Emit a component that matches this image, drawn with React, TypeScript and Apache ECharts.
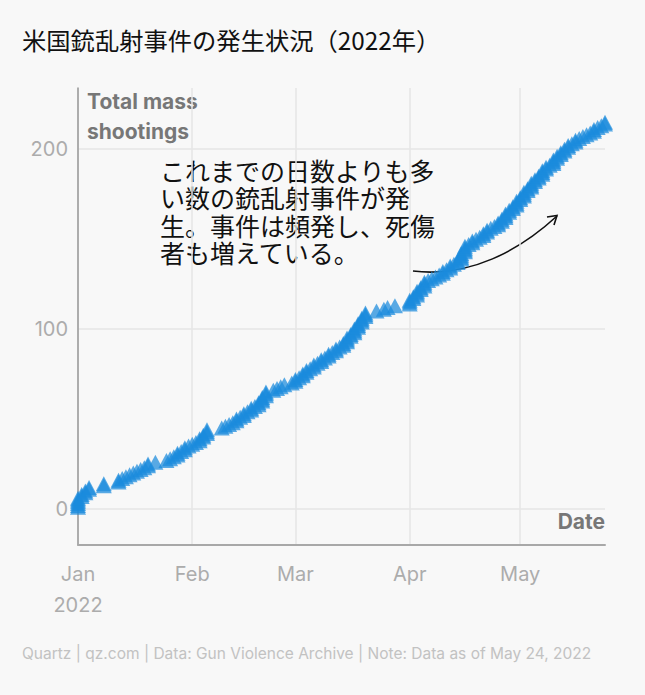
import React, { useEffect, useRef } from 'react';
import * as echarts from 'echarts';

const titleText = '米国銃乱射事件の発生状況（2022年）';
const yAxisTitleLines = ['Total mass', 'shootings'];
const xAxisTitle = 'Date';
const annotationLines = [
  'これまでの日数よりも多',
  'い数の銃乱射事件が発',
  '生。事件は頻発し、死傷',
  '者も増えている。',
];
const footerText =
  'Quartz | qz.com | Data: Gun Violence Archive | Note: Data as of May 24, 2022';

// x axis: day index since Jan 1, 2022
const monthLabels = ['Jan\n2022', 'Feb', 'Mar', 'Apr', 'May'];
const monthStartDays = [0, 31, 59, 90, 120];
const lastDay = 143; // May 24
const yTicks = [0, 100, 200];

// number of mass shootings per day
const janCounts = [6, 2, 2, 2, 0, 0, 0, 2, 0, 0, 0, 2, 1, 1, 1, 1, 1, 1, 1, 2, 0, 1, 0, 0, 1, 1, 1, 2, 1, 2, 1];
const febCounts = [1, 1, 2, 2, 3, 0, 0, 0, 1, 1, 1, 1, 2, 1, 2, 1, 2, 1, 2, 3, 3, 0, 1, 1, 1, 1, 0, 1];
const marCounts = [2, 1, 2, 2, 1, 2, 1, 2, 1, 2, 1, 2, 1, 2, 3, 2, 3, 3, 3, 3, 0, 0, 1, 0, 1, 1, 0, 1, 0, 0, 0];
const aprCounts = [3, 2, 3, 2, 3, 1, 1, 1, 1, 2, 1, 2, 1, 2, 4, 4, 1, 2, 1, 1, 2, 2, 1, 1, 2, 2, 3, 2, 2, 3];
const mayCounts = [2, 3, 2, 3, 2, 2, 3, 2, 1, 3, 2, 2, 2, 2, 1, 2, 1, 1, 1, 1, 2, 1, 1, 2];

const dailyCounts = [...janCounts, ...febCounts, ...marCounts, ...aprCounts, ...mayCounts];

function buildEvents(): number[][] {
  const out: number[][] = [];
  let k = 0;
  dailyCounts.forEach((c, day) => {
    for (let i = 0; i < c; i++) {
      k += 1;
      out.push([day, k]);
    }
  });
  return out;
}

const latin = 'Inter, "Noto Sans", sans-serif';
const cjk = '"Noto Sans CJK JP", sans-serif';

export default function App() {
  const ref = useRef<HTMLDivElement>(null);
  useEffect(() => {
    if (!ref.current) return;
    const chart = echarts.init(ref.current, undefined, { renderer: 'svg' });
    const events = buildEvents();
    const annotationTexts = annotationLines.map((t, i) => ({
      type: 'text',
      x: 160,
      y: 170 + i * 27.4,
      style: {
        text: t,
        font: `25px ${cjk}`,
        lineHeight: 27,
        fill: '#111',
        verticalAlign: 'middle',
      },
    }));
    const yTitleTexts = yAxisTitleLines.map((t, i) => ({
      type: 'text',
      x: 87,
      y: 101 + i * 30,
      style: { text: t, font: `bold 21px ${latin}`, fill: '#777', verticalAlign: 'middle', lineHeight: 28 },
    }));
    chart.setOption({
      animation: false,
      backgroundColor: '#f8f8f8',
      grid: { left: 78, right: 40, top: 88, bottom: 150, containLabel: false },
      xAxis: {
        type: 'value',
        min: 0,
        max: lastDay,
        axisLine: { onZero: false, lineStyle: { color: '#a8a8a8', width: 2 } },
        axisTick: { show: false, customValues: monthStartDays },
        axisLabel: {
          customValues: monthStartDays,
          formatter: (v: number) => {
            const i = monthStartDays.indexOf(Math.round(v));
            return i >= 0 ? monthLabels[i] : '';
          },
          color: '#acacac',
          fontSize: 20,
          lineHeight: 31,
          margin: 13,
          fontFamily: latin,
        },
        splitLine: { show: true, lineStyle: { color: '#e6e6e6', width: 1.5 } },
      },
      yAxis: {
        type: 'value',
        min: -20,
        max: 234,
        axisLine: { show: true, lineStyle: { color: '#999', width: 1.5 } },
        axisTick: { show: false, customValues: yTicks },
        axisLabel: {
          customValues: yTicks,
          color: '#acacac',
          fontSize: 20,
          margin: 10,
          fontFamily: latin,
        },
        splitLine: { show: true, lineStyle: { color: '#e6e6e6', width: 1.5 } },
      },
      series: [
        {
          type: 'scatter',
          data: events,
          symbol: 'triangle',
          symbolSize: [16, 15],
          clip: false,
          itemStyle: { color: 'rgb(26,138,221)', opacity: 0.72 },
        },
      ],
      graphic: [
        {
          type: 'text',
          x: 22,
          y: 39,
          style: { text: titleText, font: `24.3px ${cjk}`, fill: '#111', verticalAlign: 'middle' },
        },
        ...yTitleTexts,
        {
          type: 'text',
          x: 605,
          y: 521,
          style: { text: xAxisTitle, font: `bold 21px ${latin}`, fill: '#777', align: 'right', verticalAlign: 'middle' },
        },
        ...annotationTexts,
        {
          type: 'bezierCurve',
          shape: { x1: 413, y1: 271, cpx1: 470, cpy1: 278, cpx2: 520, cpy2: 250, x2: 557, y2: 216 },
          style: { stroke: '#111', lineWidth: 1.6, fill: 'none' },
        },
        {
          type: 'polyline',
          shape: { points: [[547, 217], [557, 215.5], [554, 225]] },
          style: { stroke: '#111', lineWidth: 1.6, fill: 'none' },
        },
        {
          type: 'text',
          x: 22,
          y: 653,
          style: { text: footerText, font: `15.5px ${latin}`, fill: '#c2c2c2', verticalAlign: 'middle' },
        },
      ],
    });
    return () => chart.dispose();
  }, []);
  return (
    <div
      ref={ref}
      style={{ position: 'fixed', left: 0, top: 0, width: 645, height: 695 }}
    />
  );
}
